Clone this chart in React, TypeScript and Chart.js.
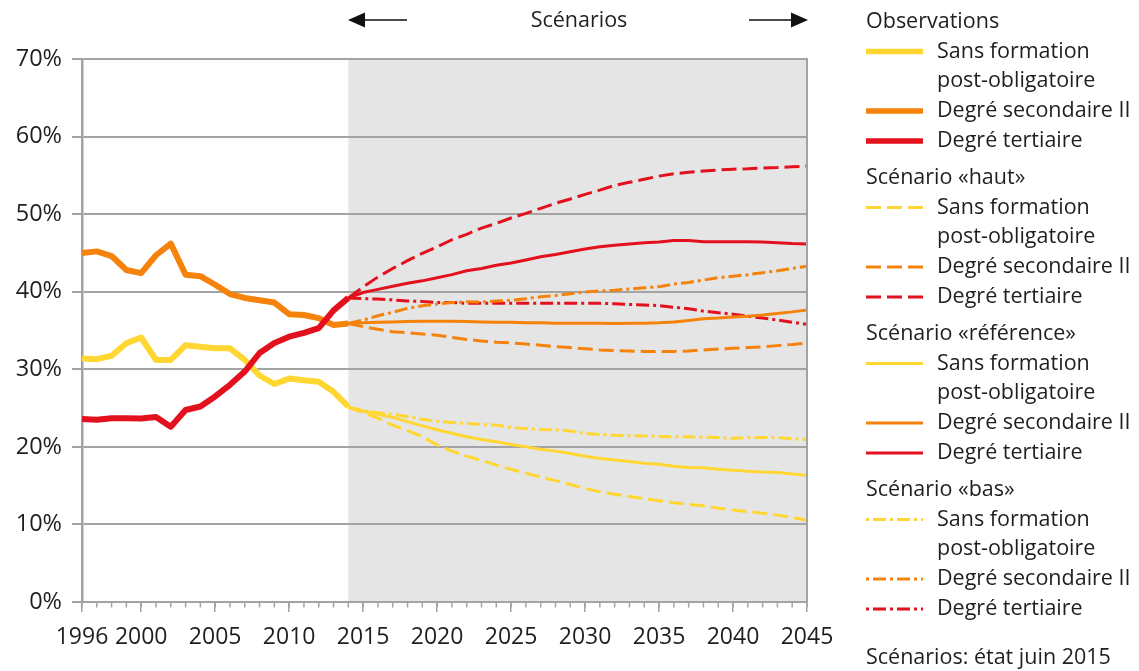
import React, { useEffect, useRef } from "react";
import { Chart, registerables } from "chart.js";
Chart.register(...registerables);

const FONT = '"Open Sans", "Noto Sans", sans-serif';
const TEXT = "#1f1f1f";
const GRID = "#a3a3a3";
const YELLOW = "#FFD632";
const ORANGE = "#F5820A";
const RED = "#E3101E";

const obsYears = [1996, 1997, 1998, 1999, 2000, 2001, 2002, 2003, 2004, 2005, 2006, 2007, 2008, 2009, 2010, 2011, 2012, 2013, 2014];
const obsSans = [31.4, 31.3, 31.75, 33.35, 34.1, 31.2, 31.2, 33.1, 32.9, 32.7, 32.7, 31.2, 29.2, 28.1, 28.8, 28.6, 28.4, 27.1, 25.2];
const obsSec = [45.0, 45.2, 44.6, 42.8, 42.4, 44.7, 46.2, 42.2, 42.0, 40.9, 39.7, 39.2, 38.9, 38.6, 37.1, 37.0, 36.6, 35.7, 35.9];
const obsTer = [23.6, 23.5, 23.7, 23.7, 23.65, 23.85, 22.6, 24.75, 25.2, 26.5, 28.0, 29.7, 32.1, 33.4, 34.2, 34.7, 35.3, 37.6, 39.2];

const scenYears = [2014, 2015, 2016, 2017, 2018, 2019, 2020, 2021, 2022, 2023, 2024, 2025, 2026, 2027, 2028, 2029, 2030, 2031, 2032, 2033, 2034, 2035, 2036, 2037, 2038, 2039, 2040, 2041, 2042, 2043, 2044, 2045];
const hautSans = [25.1, 24.4, 23.7, 22.8, 22.1, 21.3, 20.25, 19.45, 18.8, 18.25, 17.65, 17.1, 16.6, 16.1, 15.65, 15.15, 14.65, 14.2, 13.9, 13.6, 13.3, 13.05, 12.8, 12.6, 12.4, 12.1, 11.85, 11.65, 11.45, 11.2, 10.9, 10.55];
const hautSec = [35.9, 35.5, 35.15, 34.85, 34.7, 34.55, 34.4, 34.1, 33.85, 33.65, 33.5, 33.4, 33.25, 33.1, 32.9, 32.8, 32.65, 32.5, 32.4, 32.35, 32.3, 32.3, 32.3, 32.35, 32.5, 32.6, 32.7, 32.8, 32.9, 33.05, 33.2, 33.4];
const hautTer = [39.2, 40.6, 41.9, 43.0, 44.0, 44.95, 45.8, 46.7, 47.4, 48.2, 48.8, 49.5, 50.1, 50.75, 51.4, 51.95, 52.55, 53.1, 53.7, 54.1, 54.5, 54.9, 55.2, 55.4, 55.55, 55.7, 55.8, 55.85, 55.95, 56.0, 56.1, 56.2];
const refSans = [25.1, 24.6, 24.2, 23.8, 23.25, 22.7, 22.2, 21.75, 21.3, 20.95, 20.65, 20.3, 20.0, 19.7, 19.45, 19.15, 18.8, 18.5, 18.3, 18.1, 17.9, 17.75, 17.5, 17.35, 17.3, 17.1, 17.0, 16.85, 16.75, 16.7, 16.5, 16.35];
const refSec = [35.9, 36.0, 36.05, 36.1, 36.15, 36.2, 36.2, 36.2, 36.15, 36.1, 36.05, 36.05, 36.0, 36.0, 35.95, 35.95, 35.95, 35.95, 35.9, 35.95, 35.95, 36.0, 36.1, 36.3, 36.5, 36.6, 36.75, 36.85, 37.0, 37.2, 37.4, 37.65];
const refTer = [39.2, 39.9, 40.3, 40.7, 41.1, 41.4, 41.8, 42.2, 42.7, 43.0, 43.4, 43.7, 44.1, 44.5, 44.8, 45.15, 45.5, 45.8, 46.0, 46.15, 46.3, 46.4, 46.6, 46.6, 46.45, 46.45, 46.45, 46.45, 46.4, 46.3, 46.2, 46.15];
const basSans = [25.1, 24.7, 24.4, 24.2, 23.9, 23.55, 23.3, 23.15, 23.0, 22.9, 22.8, 22.5, 22.35, 22.25, 22.2, 22.05, 21.75, 21.6, 21.5, 21.45, 21.4, 21.35, 21.3, 21.3, 21.25, 21.2, 21.1, 21.2, 21.2, 21.2, 21.05, 20.95];
const basSec = [35.9, 36.35, 36.9, 37.35, 37.85, 38.2, 38.4, 38.6, 38.7, 38.65, 38.8, 38.9, 39.1, 39.35, 39.5, 39.75, 39.95, 40.1, 40.2, 40.35, 40.5, 40.65, 41.0, 41.2, 41.5, 41.8, 42.0, 42.2, 42.45, 42.7, 43.0, 43.3];
const basTer = [39.2, 39.1, 39.05, 38.95, 38.8, 38.75, 38.6, 38.6, 38.5, 38.5, 38.5, 38.5, 38.5, 38.5, 38.5, 38.5, 38.5, 38.5, 38.45, 38.35, 38.3, 38.2, 38.0, 37.8, 37.5, 37.3, 37.1, 36.85, 36.6, 36.35, 36.05, 35.8];

const xTickYears = [1996, 2000, 2005, 2010, 2015, 2020, 2025, 2030, 2035, 2040, 2045];
const yTicks = [0, 10, 20, 30, 40, 50, 60, 70];
const scenarioStart = 2014;

const legendGroups = ["Observations", "Scénario «haut»", "Scénario «référence»", "Scénario «bas»"];
const seriesNames = ["Sans formation", "Degré secondaire II", "Degré tertiaire"];
const seriesColors = [YELLOW, ORANGE, RED];
const footnote = "Scénarios: état juin 2015";
const topLabel = "Scénarios";

const DASHED = [15, 6];
const DASHDOT = [13, 4, 3, 4];

function pts(xs: number[], ys: number[]) {
  return xs.map((x, i) => ({ x, y: ys[i] }));
}

export default function App() {
  const ref = useRef<HTMLCanvasElement>(null);
  useEffect(() => {
    document.body.style.margin = "0";
    const canvas = ref.current!;

    const mk = (label: string, xs: number[], ys: number[], color: string, width: number, dash: number[]) => ({
      label,
      data: pts(xs, ys),
      borderColor: color,
      backgroundColor: color,
      borderWidth: width,
      borderDash: dash,
      pointRadius: 0,
      tension: 0,
      fill: false,
      borderCapStyle: "butt" as const,
      borderJoinStyle: "round" as const,
    });

    const datasets = [
      mk("obsTer", obsYears, obsTer, RED, 6, []),
      mk("obsSec", obsYears, obsSec, ORANGE, 6, []),
      mk("obsSans", obsYears, obsSans, YELLOW, 6, []),
      mk("hautSans", scenYears, hautSans, YELLOW, 3, DASHED),
      mk("hautSec", scenYears, hautSec, ORANGE, 3, DASHED),
      mk("hautTer", scenYears, hautTer, RED, 3, DASHED),
      mk("refSans", scenYears, refSans, YELLOW, 3, []),
      mk("refSec", scenYears, refSec, ORANGE, 3, []),
      mk("refTer", scenYears, refTer, RED, 3, []),
      mk("basSans", scenYears, basSans, YELLOW, 3, DASHDOT),
      mk("basSec", scenYears, basSec, ORANGE, 3, DASHDOT),
      mk("basTer", scenYears, basTer, RED, 3, DASHDOT),
    ];

    const decor = {
      id: "decor",
      beforeDraw(chart: any) {
        const { ctx, chartArea, scales } = chart;
        const x0 = scales.x.getPixelForValue(scenarioStart);
        ctx.save();
        ctx.fillStyle = "#e5e5e5";
        ctx.fillRect(x0, chartArea.top, chartArea.right - x0, chartArea.bottom - chartArea.top);
        ctx.restore();
      },
      afterDraw(chart: any) {
        const { ctx, chartArea, scales } = chart;
        const xs = scales.x;
        ctx.save();
        // right border
        ctx.strokeStyle = GRID;
        ctx.lineWidth = 2;
        ctx.beginPath();
        ctx.moveTo(chartArea.right, chartArea.top - 1);
        ctx.lineTo(chartArea.right, chartArea.bottom);
        ctx.stroke();
        // minor ticks
        ctx.lineWidth = 1.5;
        for (let yr = obsYears[0]; yr <= scenYears[scenYears.length - 1]; yr++) {
          const px = xs.getPixelForValue(yr);
          ctx.beginPath();
          ctx.moveTo(px, chartArea.bottom);
          ctx.lineTo(px, chartArea.bottom + 5.5);
          ctx.stroke();
        }
        // top arrows
        ctx.strokeStyle = "#111";
        ctx.fillStyle = "#111";
        ctx.lineWidth = 1.6;
        const ay = 20;
        ctx.beginPath();
        ctx.moveTo(362, ay);
        ctx.lineTo(407, ay);
        ctx.moveTo(749, ay);
        ctx.lineTo(794, ay);
        ctx.stroke();
        ctx.beginPath();
        ctx.moveTo(348, ay);
        ctx.lineTo(365, ay - 7.5);
        ctx.lineTo(365, ay + 7.5);
        ctx.closePath();
        ctx.fill();
        ctx.beginPath();
        ctx.moveTo(808, ay);
        ctx.lineTo(791, ay - 7.5);
        ctx.lineTo(791, ay + 7.5);
        ctx.closePath();
        ctx.fill();
        ctx.fillStyle = TEXT;
        ctx.font = `21.5px ${FONT}`;
        ctx.textAlign = "center";
        ctx.textBaseline = "middle";
        ctx.fillText(topLabel, 579, 21);

        // legend
        ctx.textAlign = "left";
        const lx0 = 866, lx1 = 923, tx = 937;
        const dashes = [[], DASHED, [], DASHDOT];
        legendGroups.forEach((g, gi) => {
          const hy = 22 + gi * 156;
          ctx.fillStyle = TEXT;
          ctx.font = `21.5px ${FONT}`;
          ctx.fillText(g, lx0, hy);
          const rows = [hy + 29.5, hy + 59, hy + 89, hy + 119];
          const lineYs = [rows[0], rows[2], rows[3]];
          seriesNames.forEach((s, si) => {
            const y = lineYs[si];
            ctx.save();
            ctx.strokeStyle = seriesColors[si];
            ctx.lineWidth = gi === 0 ? 5.5 : 3;
            ctx.setLineDash(dashes[gi]);
            if (gi === 3) ctx.lineDashOffset = 13 + 4;
            ctx.beginPath();
            ctx.moveTo(lx0, y);
            ctx.lineTo(lx1, y);
            ctx.stroke();
            ctx.restore();
            ctx.fillStyle = TEXT;
            ctx.fillText(s, tx, y);
            if (si === 0) ctx.fillText("post-obligatoire", tx, rows[1]);
          });
        });
        ctx.fillText(footnote, 866, 658);
        ctx.restore();
      },
    };

    const chart = new Chart(canvas, {
      type: "line",
      data: { datasets: datasets as any },
      plugins: [decor],
      options: {
        responsive: false,
        animation: false,
        devicePixelRatio: 1,
        layout: { padding: { left: 0, top: 59, right: 332, bottom: 0 } },
        plugins: { legend: { display: false }, tooltip: { enabled: false } },
        elements: { line: { borderJoinStyle: "round" } },
        scales: {
          x: {
            type: "linear",
            min: 1996,
            max: 2045,
            afterBuildTicks: (s: any) => {
              s.ticks = xTickYears.map((v) => ({ value: v }));
            },
            afterFit: (s: any) => {
              s.height = 69;
            },
            ticks: {
              autoSkip: false,
              maxRotation: 0,
              padding: 12,
              color: TEXT,
              font: { family: FONT, size: 23 },
              callback: (v: any) => String(v),
            },
            grid: { drawOnChartArea: false, drawTicks: true, tickLength: 10, color: GRID, lineWidth: 1.5 },
            border: { display: true, color: GRID, width: 2 },
          },
          y: {
            min: 0,
            max: 70,
            afterBuildTicks: (s: any) => {
              s.ticks = yTicks.map((v) => ({ value: v }));
            },
            afterFit: (s: any) => {
              s.width = 82;
            },
            ticks: {
              padding: 10,
              color: TEXT,
              font: { family: FONT, size: 23.5 },
              callback: (v: any) => v + "%",
            },
            grid: { color: GRID, lineWidth: 2, tickLength: 10, drawTicks: true },
            border: { display: true, color: GRID, width: 2.5 },
          },
        },
      } as any,
    });
    return () => chart.destroy();
  }, []);
  return (
    <div style={{ position: "relative", width: 1139, height: 671 }}>
      <canvas ref={ref} width={1139} height={671} style={{ display: "block" }} />
    </div>
  );
}
